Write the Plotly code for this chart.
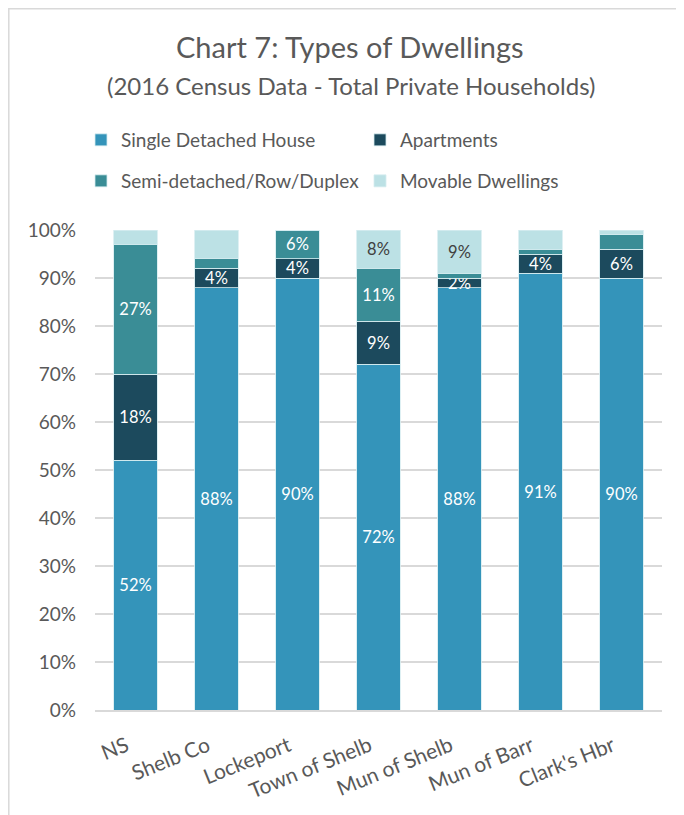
import plotly.graph_objects as go

categories = ["NS", "Shelb Co", "Lockeport", "Town of Shelb", "Mun of Shelb", "Mun of Barr", "Clark's Hbr"]
single_detached = [52, 88, 90, 72, 88, 91, 90]
apartments = [18, 4, 4, 9, 2, 4, 6]
semi_detached = [27, 2, 6, 11, 1, 1, 3]
movable = [3, 6, 0, 8, 9, 4, 1]

single_labels = ["52%", "88%", "90%", "72%", "88%", "91%", "90%"]
apartment_labels = ["18%", "4%", "4%", "9%", "2%", "4%", "6%"]
semi_labels = ["27%", "", "6%", "11%", "", "", ""]
movable_labels = ["", "", "", "8%", "9%", "", ""]

y_ticks = [0, 10, 20, 30, 40, 50, 60, 70, 80, 90, 100]
y_tick_text = [f"{v}%" for v in y_ticks]

FONT = "Lato, 'Open Sans', sans-serif"
GRAY = "#595959"

# page is offset by the 8px body margin; work in reference page pixels
OFF = 8
W, H = 684 - OFF, 815 - OFF
PL, PR, PT, PB = 95, 662, 230, 710  # plot area in reference page pixels
L, T = PL - OFF, PT - OFF
R, B = W - (PR - OFF), H - (PB - OFF)
pw, ph = PR - PL, PB - PT

def px(x):
    return (x - PL) / pw

def py(y):
    return (PB - y) / ph

# (name, values, labels, colour, label colour, legend id, legend text x, legend row y)
series = [
    ("Single Detached House", single_detached, single_labels, "#3494BA", "white", "legend", 121, 140),
    ("Apartments", apartments, apartment_labels, "#1C4A5D", "white", "legend2", 400, 140),
    ("Semi-detached/Row/Duplex", semi_detached, semi_labels, "#3A8D96", "white", "legend3", 121, 181),
    ("Movable Dwellings", movable, movable_labels, "#BCE1E5", "#404040", "legend4", 400, 181),
]

fig = go.Figure()
legends = {}
for name, vals, labels, color, tcolor, lg, lx, ly in series:
    fig.add_trace(go.Bar(
        name=name, x=categories, y=vals, text=labels,
        textposition="inside", insidetextanchor="middle",
        textangle=0, constraintext="none",
        textfont=dict(family=FONT, size=16.5, color=tcolor),
        marker=dict(color=color, line=dict(color="#D6ECF0", width=0.8)),
        legend=lg, showlegend=True, hoverinfo="x+y+name",
    ))
    legends[lg] = dict(orientation="h", x=px(lx - 40), y=py(ly), xanchor="left", yanchor="middle",
                       font=dict(size=19, color=GRAY), bgcolor="rgba(0,0,0,0)",
                       borderwidth=0, itemclick=False, itemdoubleclick=False, visible=True)

fig.update_layout(
    width=W, height=H,
    margin=dict(l=L, r=R, t=T, b=B),
    barmode="stack", bargap=0.46,
    showlegend=True,
    paper_bgcolor="white", plot_bgcolor="white",
    font=dict(family=FONT, color=GRAY),
    xaxis=dict(tickangle=-22, tickfont=dict(size=21, color=GRAY), showline=True,
               linecolor="#D9D9D9", linewidth=1.5, ticks="", showgrid=False,
               ticklabelstandoff=14, ticklabelshift=-9),
    yaxis=dict(range=[0, 100], tickvals=y_ticks, ticktext=y_tick_text,
               tickfont=dict(size=19, color=GRAY), showgrid=True, gridcolor="#D9D9D9",
               gridwidth=1.5, zeroline=False, ticks="", ticklabelstandoff=18, automargin=False),
    annotations=[
        dict(text="Chart 7: Types of Dwellings", x=px(350), y=py(47), xref="paper", yref="paper",
             showarrow=False, font=dict(size=29, color=GRAY), xanchor="center", yanchor="middle"),
        dict(text="(2016 Census Data - Total Private Households)", x=px(351), y=py(85),
             xref="paper", yref="paper", showarrow=False, font=dict(size=24, color=GRAY),
             xanchor="center", yanchor="middle"),
    ],
    shapes=[
        dict(type="rect", xref="paper", yref="paper", x0=px(8.8), x1=px(720), y0=py(860), y1=py(8.8),
             line=dict(color="#D9D9D9", width=1.5), fillcolor="rgba(0,0,0,0)", layer="below"),
    ],
    **legends,
)

fig.write_html("out.html")
